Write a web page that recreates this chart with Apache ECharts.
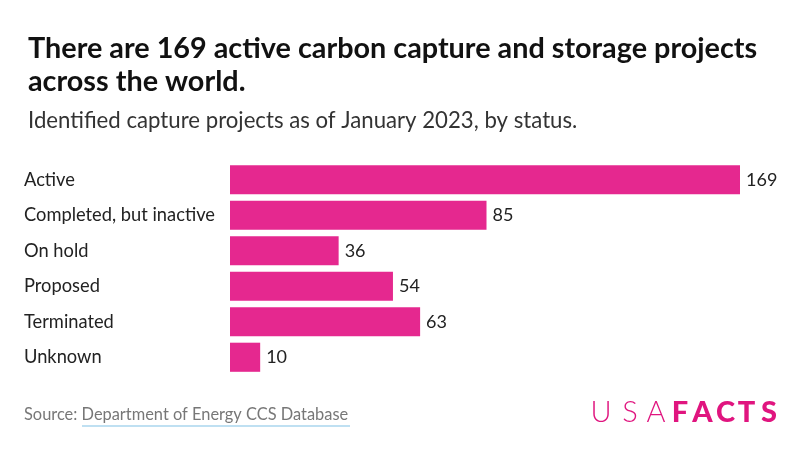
<!DOCTYPE html>
<html><head><meta charset="utf-8">
<script src="https://cdn.jsdelivr.net/npm/echarts@6/dist/echarts.min.js"></script>
<style>html,body{margin:0;padding:0;background:#fff}#c{width:800px;height:451px}</style>
</head><body><div id="c"></div>
<script>
var categories = ["Active", "Completed, but inactive", "On hold", "Proposed", "Terminated", "Unknown"];
var values = [169, 85, 36, 54, 63, 10];
var titleText = "There are 169 active carbon capture and storage projects\nacross the world.";
var subtitleText = "Identified capture projects as of January 2023, by status.";
var sourceLabel = "Source: ";
var sourceText = "Department of Energy CCS Database";
var logoThin = ["U", "S", "A"];
var logoBold = ["F", "A", "C", "T", "S"];

var chart = echarts.init(document.getElementById('c'), null, {renderer: 'canvas'});
var F = 'Lato, "Noto Sans", sans-serif';
var pink = '#e0157f';
var thinX = [601, 630, 656];
var boldX = [680, 702.5, 725.5, 746.5, 769];
var logo = [];
logoThin.forEach(function (ch, i) {
  logo.push({type: 'text', x: thinX[i], y: 413, style: {text: ch, fontFamily: F, fontSize: 29, fontWeight: 300, fill: pink, textAlign: 'center', textVerticalAlign: 'middle'}});
});
logoBold.forEach(function (ch, i) {
  logo.push({type: 'text', x: boldX[i], y: 413, style: {text: ch, fontFamily: F, fontSize: 29, fontWeight: 900, fill: pink, textAlign: 'center', textVerticalAlign: 'middle'}});
});

chart.setOption({
  animation: false,
  title: [{
    text: titleText, left: 23, top: 27,
    textStyle: {fontFamily: F, fontSize: 28.8, fontWeight: 'bold', color: '#111', lineHeight: 33}
  }, {
    text: subtitleText, left: 23, top: 105,
    textStyle: {fontFamily: F, fontSize: 22.2, fontWeight: 'normal', color: '#333'}
  }],
  grid: {left: 230, right: 60, top: 162, bottom: 76, containLabel: false},
  xAxis: {type: 'value', min: 0, max: 169, show: false},
  yAxis: {
    type: 'category', data: categories, inverse: true,
    axisLine: {show: false}, axisTick: {show: false},
    axisLabel: {align: 'left', margin: 206, fontFamily: F, fontSize: 18.3, color: '#222'}
  },
  series: [{
    type: 'bar', data: values, barCategoryGap: '18%',
    itemStyle: {color: '#e5288f'},
    label: {show: true, position: 'right', distance: 6, fontFamily: F, fontSize: 18, color: '#222'}
  }],
  graphic: [
    {type: 'text', x: 24, y: 415, style: {text: sourceLabel + sourceText, fontFamily: F, fontSize: 16.4, fill: '#777', textVerticalAlign: 'middle'}},
    {type: 'rect', shape: {x: 82, y: 425, width: 268, height: 2}, style: {fill: '#bfe0f2'}}
  ].concat(logo)
});
</script></body></html>
